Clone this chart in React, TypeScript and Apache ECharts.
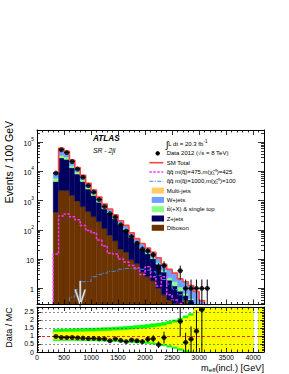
import React, { useEffect, useRef } from 'react';
import * as echarts from 'echarts';

const FONT = "'Liberation Sans', Arial, Helvetica, sans-serif";

// ---------------- data ----------------
const BIN_WIDTH = 100;
const binCenters = [350, 450, 550, 650, 750, 850, 950, 1050, 1150, 1250, 1350, 1450, 1550, 1650, 1750, 1850, 1950, 2050, 2150, 2250, 2350, 2450, 2550, 2650, 2750, 2850, 2950, 3050, 3150];
const dataEvents = [8700, 55000, 44000, 21700, 12000, 6300, 3250, 1950, 1080, 620, 360, 270, 148, 92, 59, 35, 22, 19, 14, 5, 6, 0, 0, 4, 1, 1, 1, 1, 1];
const diboson = [400, 2200, 2200, 1500, 950, 620, 420, 280, 190, 110, 65, 42, 22, 17, 9.5, 7, 3.5, 2.5, 1.8, 1.0, 0.6, 0.4, 0.3, 0.2, 0.4, 0.2, 0.1, 0.05, 0.02];
const zjets = [4080, 26700, 23520, 11760, 7130, 3870, 2055, 1207, 688, 409, 299, 193.5, 122.7, 83.8, 45.4, 26.9, 19, 12.7, 8.5, 5.7, 3.0, 1.5, 0.9, 0.6, 0.17, 0.2, 0.15, 0.08, 0.05];
const ttbar = [1400, 6000, 5200, 2700, 1500, 800, 420, 250, 140, 80, 50, 34, 20, 13, 7, 4, 2.5, 1.8, 1.2, 0.8, 0.5, 0.4, 0.5, 0.3, 0.1, 0.05, 0.02, 0, 0];
const wjets = [3100, 26000, 18000, 8000, 4000, 2000, 1000, 560, 300, 160, 100, 60, 40, 28, 17, 12, 9, 7, 5.5, 3.5, 2.6, 2.2, 1.6, 1.0, 1.0, 0.8, 0.5, 0.25, 0.18];
const multijet = [20, 100, 80, 40, 20, 10, 5, 3, 2, 1, 1, 0.5, 0.3, 0.2, 0.1, 0.1, 0, 0, 0, 0, 0, 0, 0, 0, 0, 0, 0, 0, 0];
const signal475 = [15, 300, 350, 280, 220, 140, 95, 80, 45, 28, 16, 15, 10, 8, 6, 5, 3, 5.5, 2.5, 1.2, 2.5, 0.6, 0.4, 0.3, 0, 0, 0, 0, 0];
const signal1000 = [0, 0, 0.05, 0.5, 0.9, 1.7, 1.7, 2.5, 3.0, 3.3, 3.8, 3.9, 4.5, 4.8, 4.6, 4.8, 4.5, 4.2, 3.7, 2.8, 2.0, 1.4, 0.9, 0.6, 0.35, 0.2, 0.1, 0.05, 0];

// ratio-panel uncertainty bands
const bandCenters = [350, 450, 550, 650, 750, 850, 950, 1050, 1150, 1250, 1350, 1450, 1550, 1650, 1750, 1850, 1950, 2050, 2150, 2250, 2350, 2450, 2550, 2650, 2750, 2850, 2950, 3050, 3150, 3250, 3350, 3450, 3550, 3650, 3750, 3850, 3950, 4050, 4150];
const greenLo = [0.70, 0.71, 0.71, 0.71, 0.70, 0.70, 0.69, 0.69, 0.68, 0.67, 0.66, 0.65, 0.63, 0.61, 0.59, 0.57, 0.55, 0.52, 0.48, 0.44, 0.38, 0.30, 0.22, 0.10, 0, 0, 0, 0, 0, 0, 0, 0, 0, 0, 0, 0, 0, null, 0];
const greenHi = [1.42, 1.43, 1.44, 1.45, 1.46, 1.47, 1.48, 1.49, 1.50, 1.52, 1.53, 1.55, 1.57, 1.60, 1.62, 1.65, 1.68, 1.72, 1.76, 1.80, 1.85, 1.92, 2.00, 2.10, 2.25, 2.40, 2.8, 2.8, 2.8, 2.8, 2.8, 2.8, 2.8, 2.8, 2.8, 2.8, 2.8, null, 2.8];
const yellowLo = [0.78, 0.78, 0.78, 0.78, 0.78, 0.77, 0.77, 0.77, 0.76, 0.76, 0.75, 0.74, 0.73, 0.72, 0.70, 0.68, 0.66, 0.63, 0.60, 0.55, 0.50, 0.43, 0.34, 0.24, 0.12, 0.05, 0, 0, 0, 0, 0, 0, 0, 0, 0, 0, 0, null, 0];
const yellowHi = [1.24, 1.24, 1.25, 1.25, 1.26, 1.26, 1.27, 1.28, 1.29, 1.30, 1.31, 1.33, 1.35, 1.37, 1.39, 1.42, 1.45, 1.48, 1.52, 1.57, 1.63, 1.72, 1.82, 1.95, 2.10, 2.25, 2.8, 2.8, 2.8, 2.8, 2.8, 2.8, 2.8, 2.8, 2.8, 2.8, 2.8, null, 2.8];

const ratioTickLabels = ['0', '0.5', '1', '1.5', '2', '2.5'];
const ratioGridLines = [0.5, 1.5, 2, 2.5];
const cutValue = 800;
const cutArrowTop = 1.8;

const legendLabels = {
  data: 'Data 2012 (√s = 8 TeV)',
  total: 'SM Total',
  sigA: 'q̃q̃ m(q̃)=475,m(χ̃₁⁰)=425',
  sigB: 'q̃q̃ m(q̃)=1000,m(χ̃₁⁰)=100',
};

// ---------------- styling ----------------
const X_MIN = 0, X_MAX = 4200;
const Y_MIN = 0.28, Y_MAX = 2.6e5;
const R_MIN = 0, R_MAX = 2.8;
const HIDDEN = Y_MIN * 0.3;

const components = [
  { name: 'Diboson', values: diboson, color: '#6b3300' },
  { name: 'Z+jets', values: zjets, color: '#00005f' },
  { name: 'tt̄(+X) & single top', values: ttbar, color: '#88ff88' },
  { name: 'W+jets', values: wjets, color: '#6f9fff' },
  { name: 'Multi-jets', values: multijet, color: '#ffcc66' },
];

export default function App() {
  const ref = useRef<HTMLDivElement>(null);

  useEffect(() => {
    const chart = echarts.init(ref.current as HTMLDivElement, null, { renderer: 'svg' });

    const totals = binCenters.map((_, i) => components.reduce((s, c) => s + c.values[i], 0));
    const stackRows: number[][] = [];
    binCenters.forEach((c, i) => {
      let cum = 0;
      components.forEach((comp, k) => {
        const lo = cum;
        cum += comp.values[i];
        const hi = cum;
        if (hi <= Y_MIN || hi === lo) return;
        stackRows.push([c - BIN_WIDTH / 2, c + BIN_WIDTH / 2, Math.max(lo, Y_MIN), Math.min(hi, Y_MAX), k]);
      });
    });

    const stepLine = (vals: number[], dropStart: boolean) => {
      const pts: number[][] = [];
      const first = binCenters[0] - BIN_WIDTH / 2;
      if (dropStart) pts.push([first, HIDDEN]);
      binCenters.forEach((c, i) => {
        const v = vals[i] > 0 ? vals[i] : HIDDEN;
        pts.push([c - BIN_WIDTH / 2, v], [c + BIN_WIDTH / 2, v]);
      });
      pts.push([binCenters[binCenters.length - 1] + BIN_WIDTH / 2, HIDDEN]);
      return pts;
    };

    const dataPts: number[][] = [];
    const dataErr: number[][] = [];
    const ratioPts: number[][] = [];
    const ratioErr: number[][] = [];
    binCenters.forEach((c, i) => {
      const n = dataEvents[i];
      if (n <= 0) return;
      const s = Math.sqrt(n);
      dataPts.push([c, n]);
      dataErr.push([c, n, Math.max(n - s, Y_MIN), Math.min(n + s, Y_MAX)]);
      const r = n / totals[i];
      const e = s / totals[i];
      if (r <= R_MAX) {
        ratioPts.push([c, r]);
        ratioErr.push([c, r, Math.max(r - e, R_MIN), Math.min(r + e, R_MAX)]);
      }
    });

    const bandRows = (lo: (number | null)[], hi: (number | null)[]) => {
      const rows: number[][] = [];
      bandCenters.forEach((c, i) => {
        const a = lo[i], b = hi[i];
        if (a === null || b === null) return;
        rows.push([c - BIN_WIDTH / 2, c + BIN_WIDTH / 2, Math.max(a, R_MIN), Math.min(b, R_MAX)]);
      });
      return rows;
    };

    const rectRender = (fillFor: (k: number) => string) => (params: any, api: any) => {
      const a = api.coord([api.value(0), api.value(3)]);
      const b = api.coord([api.value(1), api.value(2)]);
      const fill = fillFor(api.value(4));
      return {
        type: 'rect',
        shape: { x: a[0], y: a[1], width: b[0] - a[0], height: b[1] - a[1] },
        style: { fill, stroke: fill, lineWidth: 0.4 },
      };
    };

    const errRender = (params: any, api: any) => {
      const x = api.value(0), y = api.value(1);
      const t = api.coord([x, api.value(3)]);
      const b = api.coord([x, api.value(2)]);
      const l = api.coord([x - BIN_WIDTH / 2, y]);
      const r = api.coord([x + BIN_WIDTH / 2, y]);
      return {
        type: 'group',
        children: [
          { type: 'line', shape: { x1: t[0], y1: t[1], x2: b[0], y2: b[1] }, style: { stroke: '#000', lineWidth: 1 } },
          { type: 'line', shape: { x1: l[0], y1: l[1], x2: r[0], y2: r[1] }, style: { stroke: '#000', lineWidth: 1 } },
        ],
      };
    };

    const arrowRender = (params: any, api: any) => {
      const top = api.coord([api.value(0), api.value(1)]);
      const bot = api.coord([api.value(0), Y_MIN]);
      const head = [[bot[0] - 5, bot[1] - 15], [bot[0], bot[1]], [bot[0] + 5, bot[1] - 15]];
      return {
        type: 'group',
        children: [
          { type: 'line', shape: { x1: top[0], y1: top[1], x2: bot[0], y2: bot[1] }, style: { stroke: '#8a8a8a', lineWidth: 2.4 } },
          { type: 'polyline', shape: { points: head }, style: { stroke: '#8a8a8a', lineWidth: 2.4, fill: 'none' } },
          { type: 'line', shape: { x1: top[0], y1: top[1], x2: bot[0], y2: bot[1] }, style: { stroke: '#fff', lineWidth: 0.9 } },
          { type: 'polyline', shape: { points: head }, style: { stroke: '#fff', lineWidth: 0.9, fill: 'none' } },
        ],
      };
    };

    const tickStyle = { color: '#000', width: 0.8 };
    const xAx = (grid: number, position: string, showLabel: boolean) => ({
      type: 'value', gridIndex: grid, position, min: X_MIN, max: X_MAX, interval: 500, z: 10,
      axisLine: { show: true, onZero: false, lineStyle: { color: '#000', width: 1 } },
      axisTick: { show: true, inside: true, length: grid === 0 ? 5 : 4, lineStyle: tickStyle },
      minorTick: { show: true, splitNumber: 5, length: 2.5, lineStyle: tickStyle },
      splitLine: { show: false },
      axisLabel: showLabel
        ? {
            show: true, fontSize: 7, fontFamily: FONT, color: '#000', margin: 2, showMaxLabel: false, showMinLabel: true,
            formatter: (v: number) => (v % 500 === 0 ? String(v) : ''),
          }
        : { show: false },
    });
    const logAx = (position: string, showLabel: boolean) => ({
      type: 'log', logBase: 10, gridIndex: 0, position, min: Y_MIN, max: Y_MAX, z: 10,
      axisLine: { show: true, onZero: false, lineStyle: { color: '#000', width: 1 } },
      axisTick: { show: true, inside: true, length: 6, lineStyle: tickStyle },
      minorTick: { show: true, splitNumber: 9, length: 3, lineStyle: tickStyle },
      splitLine: { show: false },
      axisLabel: showLabel
        ? {
            show: true, margin: 3, showMinLabel: false, showMaxLabel: false,
            formatter: (v: number) => {
              const lg = Math.log10(v);
              const e = Math.round(lg);
              if (Math.abs(lg - e) > 0.01) return '';
              if (e === 0) return '{b|1}';
              if (e === 1) return '{b|10}';
              return '{b|10}{s|' + e + '}';
            },
            rich: {
              b: { fontSize: 7, fontFamily: FONT, color: '#000', lineHeight: 10, verticalAlign: 'bottom' },
              s: { fontSize: 4.8, fontFamily: FONT, color: '#000', lineHeight: 10, verticalAlign: 'top' },
            },
          }
        : { show: false },
    });
    const ratioAx = (position: string, showLabel: boolean) => ({
      type: 'value', gridIndex: 1, position, min: R_MIN, max: R_MAX, interval: 0.5, z: 10,
      axisLine: { show: true, onZero: false, lineStyle: { color: '#000', width: 1 } },
      axisTick: { show: true, inside: true, length: 4, lineStyle: tickStyle },
      minorTick: { show: true, splitNumber: 5, length: 2, lineStyle: tickStyle },
      splitLine: { show: false },
      axisLabel: showLabel
        ? {
            show: true, fontSize: 7, fontFamily: FONT, color: '#000', margin: 3, showMaxLabel: false,
            formatter: (v: number) => {
              const idx = Math.round(v / 0.5);
              return Math.abs(v - idx * 0.5) < 1e-6 && ratioTickLabels[idx] !== undefined ? ratioTickLabels[idx] : '';
            },
          }
        : { show: false },
    });

    const rowY = [144, 153.3, 162.7, 172, 181.3, 190.6, 199.9, 209.2, 218.5, 227.8];
    const textX = 166.7;
    const legText = (t: string, y: number) => ({
      type: 'text', x: textX, y, z: 100,
      style: { text: t, fontSize: 6, fontFamily: FONT, fill: '#000', align: 'left', verticalAlign: 'middle' },
    });
    const legendBoxes = [...components].reverse().map((c, i) => ({
      type: 'rect', z: 100,
      shape: { x: 151.7, y: rowY[5 + i] - 3, width: 12.3, height: 6 },
      style: { fill: c.color },
    }));
    const legendBoxTexts = [...components].reverse().map((c, i) => legText(c.name, rowY[5 + i]));

    const graphic = [
      { type: 'text', x: 93, y: 138, z: 100, style: { text: 'ATLAS', fontSize: 8.2, fontWeight: 'bold', fontStyle: 'italic', fontFamily: FONT, fill: '#000', align: 'left', verticalAlign: 'middle' } },
      { type: 'text', x: 93, y: 150.7, z: 100, style: { text: 'SR - 2jl', fontSize: 6.8, fontStyle: 'italic', fontFamily: FONT, fill: '#000', align: 'left', verticalAlign: 'middle' } },
      {
        type: 'text', x: textX - 1, y: rowY[0], z: 100,
        style: {
          text: '{i|∫}{t|L dt = 20.3 fb}{s|-1}', align: 'left', verticalAlign: 'middle',
          rich: {
            i: { fontSize: 9.5, fontFamily: FONT, fill: '#000', lineHeight: 11, verticalAlign: 'middle' },
            t: { fontSize: 6, fontFamily: FONT, fill: '#000', lineHeight: 11, verticalAlign: 'middle' },
            s: { fontSize: 4.5, fontFamily: FONT, fill: '#000', lineHeight: 9, verticalAlign: 'top' },
          },
        },
      },
      { type: 'circle', z: 100, shape: { cx: 157.7, cy: rowY[1], r: 2.2 }, style: { fill: '#000' } },
      legText(legendLabels.data, rowY[1]),
      { type: 'line', z: 100, shape: { x1: 149.3, y1: rowY[2], x2: 163.3, y2: rowY[2] }, style: { stroke: '#ff4444', lineWidth: 1.6 } },
      legText(legendLabels.total, rowY[2]),
      { type: 'line', z: 100, shape: { x1: 149.3, y1: rowY[3], x2: 163.3, y2: rowY[3] }, style: { stroke: '#ff33ff', lineWidth: 1.5, lineDash: [2.5, 1.5] } },
      legText(legendLabels.sigA, rowY[3]),
      { type: 'line', z: 100, shape: { x1: 149.3, y1: rowY[4], x2: 163.3, y2: rowY[4] }, style: { stroke: '#3d8fd6', lineWidth: 1, lineDash: [4, 1.5, 1, 1.5] } },
      legText(legendLabels.sigB, rowY[4]),
      ...legendBoxes,
      ...legendBoxTexts,
      {
        type: 'text', x: 8.5, y: 121, rotation: Math.PI / 2, z: 100,
        style: { text: 'Events / 100 GeV', fontSize: 10.5, fontFamily: FONT, fill: '#000', align: 'right', verticalAlign: 'middle' },
      },
      {
        type: 'text', x: 8.5, y: 327.5, rotation: Math.PI / 2, z: 100,
        style: { text: 'Data / MC', fontSize: 9, fontFamily: FONT, fill: '#000', align: 'center', verticalAlign: 'middle' },
      },
      {
        type: 'text', x: 264, y: 367.5, z: 100,
        style: {
          text: '{m|m}{e|eff}{m|(incl.) [GeV]}', align: 'right', verticalAlign: 'middle',
          rich: {
            m: { fontSize: 9.2, fontFamily: FONT, fill: '#000', lineHeight: 10, verticalAlign: 'middle' },
            e: { fontSize: 6.2, fontFamily: FONT, fill: '#000', lineHeight: 10, verticalAlign: 'bottom' },
          },
        },
      },
    ];

    const option: any = {
      animation: false,
      backgroundColor: '#fff',
      textStyle: { fontFamily: FONT },
      grid: [
        { left: 37, top: 130, width: 227, height: 174.5 },
        { left: 37, top: 307, width: 227, height: 45 },
      ],
      xAxis: [xAx(0, 'bottom', false), xAx(0, 'top', false), xAx(1, 'bottom', true), xAx(1, 'top', false)],
      yAxis: [logAx('left', true), logAx('right', false), ratioAx('left', true), ratioAx('right', false)],
      graphic,
      series: [
        {
          type: 'custom', name: 'stack', xAxisIndex: 0, yAxisIndex: 0, z: 2,
          encode: { x: [0, 1], y: [2, 3] },
          renderItem: rectRender((k) => components[k].color),
          data: stackRows,
        },
        {
          type: 'line', name: 'sigB', xAxisIndex: 0, yAxisIndex: 0, z: 3, symbol: 'none', clip: true,
          lineStyle: { color: '#3d8fd6', width: 1, type: [4, 1.5, 1, 1.5] },
          data: stepLine(signal1000, true),
        },
        {
          type: 'line', name: 'sigA', xAxisIndex: 0, yAxisIndex: 0, z: 3, symbol: 'none', clip: true,
          lineStyle: { color: '#ff33ff', width: 1.5, type: [2.5, 1.5] },
          data: stepLine(signal475, true),
        },
        {
          type: 'line', name: 'total', xAxisIndex: 0, yAxisIndex: 0, z: 3, symbol: 'none', clip: true,
          lineStyle: { color: '#ff4444', width: 1.6 },
          data: stepLine(totals, false),
        },
        {
          type: 'custom', name: 'arrow', xAxisIndex: 0, yAxisIndex: 0, z: 4,
          renderItem: arrowRender,
          data: [[cutValue, cutArrowTop]],
        },
        {
          type: 'custom', name: 'dataErr', xAxisIndex: 0, yAxisIndex: 0, z: 5,
          encode: { x: 0, y: [1, 2, 3] },
          renderItem: errRender,
          data: dataErr,
        },
        {
          type: 'scatter', name: 'data', xAxisIndex: 0, yAxisIndex: 0, z: 6,
          symbol: 'circle', symbolSize: 5, itemStyle: { color: '#000' },
          data: dataPts,
        },
        {
          type: 'custom', name: 'green', xAxisIndex: 2, yAxisIndex: 2, z: 1,
          encode: { x: [0, 1], y: [2, 3] },
          renderItem: rectRender(() => '#00ff00'),
          data: bandRows(greenLo, greenHi),
        },
        {
          type: 'custom', name: 'yellow', xAxisIndex: 2, yAxisIndex: 2, z: 2,
          encode: { x: [0, 1], y: [2, 3] },
          renderItem: rectRender(() => '#ffff00'),
          data: bandRows(yellowLo, yellowHi),
        },
        {
          type: 'line', name: 'refs', xAxisIndex: 2, yAxisIndex: 2, z: 3, data: [],
          markLine: {
            silent: true, symbol: ['none', 'none'], label: { show: false }, animation: false,
            data: [
              ...ratioGridLines.map((v) => ({ yAxis: v, lineStyle: { color: '#444', width: 0.6, type: [2, 2] } })),
              { yAxis: 1, lineStyle: { color: '#ff2020', width: 1, type: [3, 2] } },
            ],
          },
        },
        {
          type: 'custom', name: 'ratioErr', xAxisIndex: 2, yAxisIndex: 2, z: 5,
          encode: { x: 0, y: [1, 2, 3] },
          renderItem: errRender,
          data: ratioErr,
        },
        {
          type: 'scatter', name: 'ratio', xAxisIndex: 2, yAxisIndex: 2, z: 6,
          symbol: 'circle', symbolSize: 5, itemStyle: { color: '#000' },
          data: ratioPts,
        },
      ],
    };

    chart.setOption(option);
    return () => chart.dispose();
  }, []);

  return <div ref={ref} style={{ position: 'fixed', left: 0, top: 0, width: 289, height: 374, background: '#fff' }} />;
}
